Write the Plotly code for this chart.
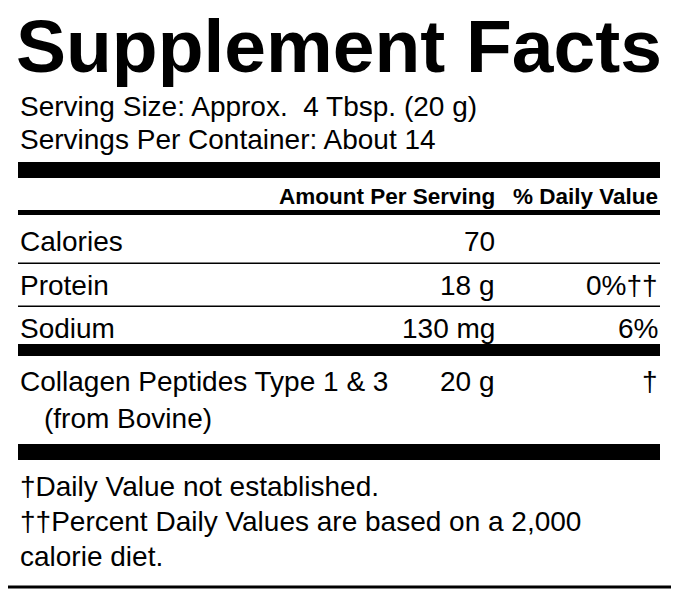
import plotly.graph_objects as go

W, H = 679, 590

title = "Supplement Facts"
serving_lines = ["Serving Size: Approx.  4 Tbsp. (20 g)", "Servings Per Container: About 14"]
col_headers = ["Amount Per Serving", "% Daily Value"]
nutrients = ["Calories", "Protein", "Sodium", "Collagen Peptides Type 1 & 3"]
amounts = ["70", "18 g", "130 mg", "20 g"]
daily_values = ["", "0%††", "6%", "†"]
sub_label = "(from Bovine)"
footnotes = ["†Daily Value not established.",
             "††Percent Daily Values are based on a 2,000",
             "calorie diet."]

FONT = "Liberation Sans, Arial, sans-serif"
L, R, AMT_R = 18, 660, 497
OFF = 8  # page body margin

fig = go.Figure()
shapes = []
ann = []

def text(x, y, s, size=28, bold=False, anchor="left"):
    ann.append(dict(x=x, y=y, text=f"<b>{s}</b>" if bold else s, showarrow=False,
                    xanchor=anchor, yanchor="middle", xref="x", yref="y",
                    font=dict(family=FONT, size=size, color="black")))

def bar(y0, y1):
    shapes.append(dict(type="rect", x0=L, x1=R, y0=y0, y1=y1, fillcolor="black",
                       line_width=0, xref="x", yref="y"))

# outer border
shapes.append(dict(type="rect", x0=3, x1=676, y0=3, y1=587, line=dict(color="black", width=3),
                   xref="x", yref="y"))

text(L - 4, 46, title, size=75, bold=True)
for i, s in enumerate(serving_lines):
    text(L, 106 + 33 * i, s)

bar(162, 178)
text(AMT_R, 196, col_headers[0], size=22.5, bold=True, anchor="right")
text(R, 196, col_headers[1], size=22.5, bold=True, anchor="right")
bar(210, 215)

row_y = [241, 285, 328, 381]
for i, name in enumerate(nutrients):
    text(L, row_y[i], name)
    text(AMT_R, row_y[i], amounts[i], anchor="right")
    text(R, row_y[i], daily_values[i], anchor="right")
text(L + 24, 418, sub_label)

bar(262.5, 264)
bar(305.5, 307)
bar(344, 356)
bar(444, 460)

for i, s in enumerate(footnotes):
    text(L, 486 + 35 * i, s)

fig.update_layout(width=W, height=H, margin=dict(l=0, r=0, t=0, b=0),
                  plot_bgcolor="white", paper_bgcolor="white",
                  shapes=shapes, annotations=ann, showlegend=False)
fig.update_xaxes(range=[OFF, W + OFF], visible=False, fixedrange=True)
fig.update_yaxes(range=[H + OFF, OFF], visible=False, fixedrange=True)
fig.write_html("out.html")
